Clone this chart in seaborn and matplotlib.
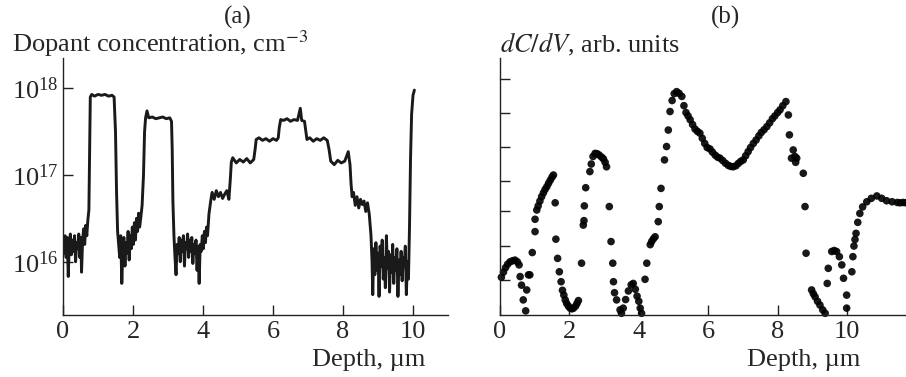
import numpy as np
import pandas as pd
import matplotlib
matplotlib.use('Agg')
import matplotlib.pyplot as plt
from matplotlib.ticker import NullLocator, NullFormatter
import seaborn as sns

# (a) dopant profile: depth (um) and log10 of concentration (cm^-3)
depth_a = [
    0.00, 0.03, 0.06, 0.09, 0.12, 0.15, 0.18, 0.21, 0.24, 0.27, 0.30, 0.33, 0.36, 0.39,
    0.42, 0.45, 0.48, 0.51, 0.53, 0.56, 0.59, 0.62, 0.65, 0.68, 0.71,
    0.74, 0.76, 0.78,
    0.82, 0.90, 1.00, 1.10, 1.20, 1.30, 1.40, 1.46,
    1.50, 1.53, 1.56,
    1.59, 1.62, 1.65, 1.68, 1.71, 1.74, 1.77, 1.80, 1.83, 1.86, 1.89, 1.92, 1.95, 1.98,
    2.01, 2.04, 2.07, 2.10, 2.13, 2.16, 2.19, 2.22, 2.26,
    2.30, 2.33, 2.36,
    2.40, 2.45, 2.55, 2.65, 2.75, 2.85, 2.95, 3.05, 3.10,
    3.12, 3.14, 3.17,
    3.20, 3.23, 3.26, 3.29, 3.32, 3.35, 3.38, 3.41, 3.44, 3.47, 3.50, 3.53, 3.56, 3.59,
    3.62, 3.65, 3.68, 3.71, 3.74, 3.77, 3.80, 3.83, 3.86, 3.89, 3.92, 3.95, 3.98, 4.01,
    4.04, 4.07, 4.10, 4.13,
    4.17, 4.22,
    4.26, 4.32, 4.38, 4.44, 4.50, 4.56, 4.62, 4.68, 4.74,
    4.78, 4.81,
    4.85, 4.95, 5.05, 5.15, 5.25, 5.35, 5.45,
    5.49, 5.52,
    5.60, 5.70, 5.80, 5.90, 6.00, 6.10, 6.15,
    6.18, 6.22,
    6.30, 6.40, 6.50, 6.60, 6.70, 6.78, 6.82, 6.90,
    6.94, 6.97,
    7.05, 7.15, 7.25, 7.35, 7.45, 7.55,
    7.60, 7.65,
    7.75, 7.85, 7.95, 8.05, 8.15, 8.20,
    8.23, 8.26,
    8.30, 8.35, 8.40, 8.45, 8.50, 8.55, 8.60, 8.65, 8.70, 8.75,
    8.80, 8.83,
    8.85, 8.88, 8.91, 8.94, 8.97, 9.00, 9.03, 9.06, 9.09, 9.12, 9.15, 9.18, 9.21, 9.24,
    9.27, 9.30, 9.33, 9.36, 9.39, 9.42, 9.45, 9.48, 9.51, 9.54, 9.57, 9.60, 9.63, 9.66,
    9.69, 9.72, 9.75, 9.78, 9.81, 9.84, 9.87,
    9.90, 9.93, 9.96, 10.00, 10.04,
]
log_conc_a = [
    16.25, 16.10, 16.30, 16.05, 16.28, 15.83, 16.20, 16.32, 16.08, 16.25, 16.12, 16.30, 16.00, 16.22,
    16.15, 16.32, 16.05, 16.28, 15.88, 16.25, 16.38, 16.20, 16.42, 16.30, 16.48,
    16.60, 17.30, 17.90,
    17.93, 17.91, 17.93, 17.92, 17.93, 17.91, 17.92, 17.90,
    17.50, 16.80, 16.35,
    16.20, 16.05, 16.30, 15.75, 16.15, 16.28, 15.95, 16.22, 16.10, 16.35, 16.02, 16.30, 16.15, 16.40,
    16.20, 16.45, 16.25, 16.50, 16.35, 16.56, 16.40, 16.50, 16.65,
    17.00, 17.50, 17.66,
    17.74, 17.66, 17.67, 17.65, 17.66, 17.67, 17.65, 17.66, 17.62,
    17.30, 16.70, 16.30,
    16.05, 15.85, 16.20, 16.10, 16.28, 16.00, 16.25, 16.12, 16.30, 15.95, 16.22, 16.15, 16.32, 16.05,
    16.25, 16.12, 16.28, 15.98, 16.20, 16.10, 16.25, 15.90, 16.18, 15.75, 16.20, 16.12, 16.30, 16.15,
    16.35, 16.22, 16.40, 16.30,
    16.55, 16.70,
    16.80, 16.72, 16.82, 16.75, 16.80, 16.73, 16.78, 16.82, 16.72,
    16.95, 17.15,
    17.20, 17.14, 17.18, 17.15, 17.19, 17.14, 17.18,
    17.30, 17.41,
    17.43, 17.40, 17.42, 17.39, 17.42, 17.40, 17.43,
    17.55, 17.64,
    17.63, 17.65, 17.62, 17.64, 17.63, 17.77, 17.63, 17.62,
    17.50, 17.41,
    17.43, 17.39, 17.42, 17.40, 17.43, 17.40,
    17.30, 17.16,
    17.12, 17.17, 17.14, 17.16, 17.27, 17.12,
    16.90, 16.75,
    16.80, 16.65, 16.75, 16.62, 16.72, 16.66, 16.70, 16.58, 16.68, 16.55,
    16.30, 16.00,
    15.62, 16.15, 15.85, 16.22, 15.90, 16.10, 15.60, 16.18, 15.95, 16.25, 15.80, 16.05, 15.70, 16.30,
    15.92, 16.12, 15.65, 16.08, 15.88, 16.20, 15.75, 16.05, 15.90, 16.15, 15.60, 16.02, 15.85, 16.12,
    15.78, 16.05, 15.95, 16.18, 15.62, 16.00, 15.80,
    16.40, 17.20, 17.70, 17.92, 17.98,
]

# (b) dC/dV points: depth (um) and signal (arb. units)
depth_b = [
    0.04, 0.10, 0.16, 0.22, 0.29, 0.36, 0.43, 0.50, 0.55,
    0.58, 0.62, 0.77, 0.82, 0.86, 0.67, 0.74,
    0.93, 1.01, 1.01,
    1.06, 1.10, 1.15, 1.20, 1.25, 1.30, 1.35, 1.40, 1.45, 1.50, 1.54,
    1.59, 1.61, 1.66, 1.71, 1.76,
    1.80, 1.84, 1.88, 1.92, 1.97, 2.02, 2.07, 2.12, 2.18, 2.22, 2.26,
    2.35, 2.40, 2.42, 2.43, 2.47, 2.59,
    2.63, 2.68, 2.74, 2.80, 2.86, 2.93, 2.98, 3.03, 3.07,
    3.15, 3.20, 3.25, 3.27, 3.30, 3.36, 3.46,
    3.50, 3.55, 3.62, 3.70, 3.78, 3.84, 3.90, 3.95, 4.00, 4.04, 4.08,
    4.18, 4.23, 4.33, 4.37, 4.42, 4.47, 4.56, 4.59, 4.64, 4.74, 4.80, 4.85, 4.90,
    4.96, 5.02, 5.09, 5.16, 5.24, 5.30, 5.36, 5.42, 5.48, 5.55, 5.62, 5.69, 5.76, 5.83,
    5.90, 5.97, 6.05, 6.12, 6.20, 6.27, 6.34, 6.42, 6.50, 6.58, 6.65, 6.72, 6.80, 6.87,
    6.94, 7.01, 7.08, 7.15, 7.22, 7.30, 7.38, 7.46, 7.53, 7.61, 7.69, 7.77, 7.85, 7.92,
    8.00, 8.07, 8.15, 8.24,
    8.31, 8.34, 8.40, 8.45, 8.50, 8.55, 8.52, 8.74, 8.79, 8.82,
    8.98, 9.03, 9.08, 9.15, 9.22, 9.30, 9.37,
    9.43, 9.46, 9.56, 9.63, 9.70, 9.78, 9.85, 9.90, 9.99, 9.99, 10.14, 10.17, 10.20,
    10.23, 10.26, 10.31, 10.37, 10.45, 10.57, 10.70, 10.86, 11.00, 11.14, 11.30, 11.45,
    11.53, 11.62, 11.70,
]
dcdv_b = [
    1.10, 1.25, 1.38, 1.48, 1.55, 1.58, 1.60, 1.55, 1.46,
    1.12, 0.87, 0.73, 1.17, 1.17, 0.44, 0.12,
    1.82, 2.43, 2.79,
    3.06, 3.18, 3.32, 3.45, 3.56, 3.66, 3.74, 3.84, 3.93, 4.02, 4.08,
    3.27, 2.21, 1.65, 1.26, 0.97,
    0.72, 0.58, 0.44, 0.34, 0.26, 0.20, 0.18, 0.20, 0.26, 0.34, 0.42,
    1.51, 2.62, 2.75, 3.18, 3.71, 4.18,
    4.40, 4.62, 4.71, 4.70, 4.66, 4.60, 4.55, 4.45, 4.32,
    3.16, 2.14, 1.51, 0.97, 0.65, 0.44, 0.15,
    0.05, 0.20, 0.45, 0.70, 0.88, 0.92, 0.75, 0.55, 0.40, 0.20, 0.05,
    1.04, 1.51, 2.05, 2.14, 2.22, 2.28, 2.72, 3.16, 3.69, 4.52, 4.91, 5.39, 5.93,
    6.25, 6.45, 6.51, 6.46, 6.37, 6.10, 5.90, 5.80, 5.69, 5.55, 5.42, 5.35, 5.30, 5.15,
    5.00, 4.88, 4.84, 4.75, 4.66, 4.60, 4.57, 4.50, 4.42, 4.36, 4.33, 4.32, 4.35, 4.42,
    4.48, 4.52, 4.64, 4.76, 4.88, 5.00, 5.10, 5.22, 5.32, 5.40, 5.49, 5.60, 5.72, 5.80,
    5.90, 5.98, 6.10, 6.22,
    5.83, 5.25, 4.57, 4.81, 4.62, 4.57, 4.45, 4.13, 3.16, 1.80,
    0.73, 0.62, 0.53, 0.40, 0.29, 0.15, 0.05,
    0.92, 1.36, 1.85, 1.88, 1.85, 1.70, 1.46, 1.07, 0.58, 0.20, 1.26, 1.70, 2.01,
    2.20, 2.38, 2.70, 2.96, 3.15, 3.30, 3.40, 3.47, 3.40, 3.33, 3.30, 3.28,
    3.27, 3.28, 3.27,
]

xticks = [0, 2, 4, 6, 8, 10]
yticks_b = [1.01, 2.01, 3.03, 3.9, 4.9, 5.9, 6.87]

df_a = pd.DataFrame({'depth': depth_a, 'conc': 10.0 ** np.array(log_conc_a)})
df_b = pd.DataFrame({'depth': depth_b, 'dcdv': dcdv_b})

sns.set_style('ticks')
plt.rcParams['font.family'] = ['Liberation Serif', 'DejaVu Serif']
plt.rcParams['mathtext.fontset'] = 'stix'

fig = plt.figure(figsize=(9.06, 3.77), dpi=100)
ax1 = fig.add_axes([63 / 906, 1 - 315 / 377, (448 - 63) / 906, (315 - 58) / 377])
ax2 = fig.add_axes([500 / 906, 1 - 315 / 377, (906 - 500) / 906, (315 - 58) / 377])

# (a)
sns.lineplot(data=df_a, x='depth', y='conc', ax=ax1, color='#1a1a1a', lw=2.1,
             sort=False, estimator=None)
ax1.set_yscale('log')
ax1.set_ylim(2.43e15, 2.24e18)
ax1.set_xlim(0, 11)
ax1.set_yticks([1e16, 1e17, 1e18])
ax1.yaxis.set_minor_locator(NullLocator())
ax1.yaxis.set_minor_formatter(NullFormatter())

# (b)
sns.scatterplot(data=df_b, x='depth', y='dcdv', ax=ax2, s=30, color='black',
                edgecolor='none', linewidth=0, alpha=0.9, clip_on=False)
ax2.set_xlim(0, 11.7)
ax2.set_ylim(0, 7.49)
ax2.set_yticks(yticks_b)
ax2.set_yticklabels([])

for ax in (ax1, ax2):
    ax.set_xticks(xticks)
    ax.set_xlabel('')
    ax.set_ylabel('')
    sns.despine(ax=ax)
    for s in ('left', 'bottom'):
        ax.spines[s].set_linewidth(1.0)
        ax.spines[s].set_color('#222222')
    ax.tick_params(axis='both', which='major', direction='in', length=7, width=1.0,
                   labelsize=19, pad=4, color='#222222')
    ax.patch.set_alpha(0)

ax1.tick_params(axis='y', pad=3)

fig.text(12 / 906, 1 - 52 / 377, 'Dopant concentration, cm$^{-3}$', fontsize=19,
         ha='left', va='baseline')
fig.text(238 / 906, 1 - 24 / 377, '(a)', fontsize=18, ha='center', va='baseline')
fig.text(425 / 906, 1 - 366 / 377, 'Depth, µm', fontsize=19, ha='right', va='baseline')

fig.text(500 / 906, 1 - 52 / 377, '$dC/dV$, arb. units', fontsize=19,
         ha='left', va='baseline')
fig.text(726 / 906, 1 - 24 / 377, '(b)', fontsize=18, ha='center', va='baseline')
fig.text(860 / 906, 1 - 366 / 377, 'Depth, µm', fontsize=19, ha='right', va='baseline')

fig.savefig('out.png', dpi=100)
